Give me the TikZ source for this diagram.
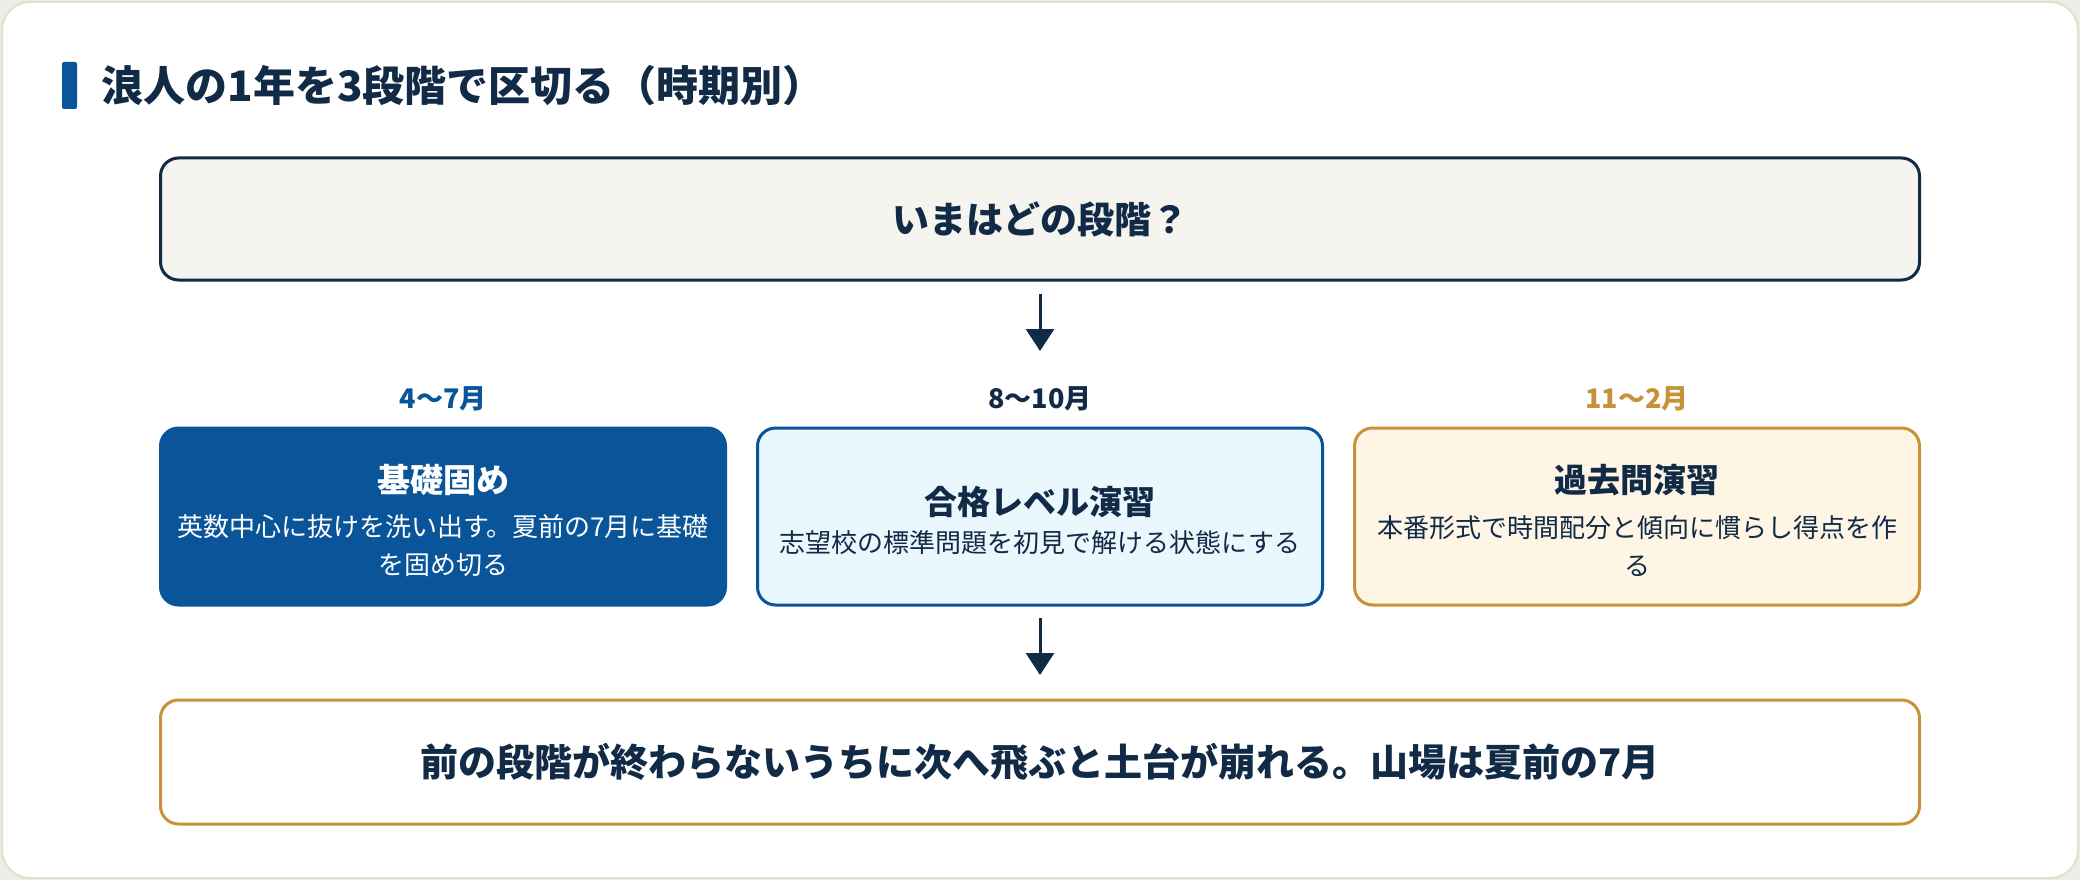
\documentclass[tikz,border=0pt]{standalone}
\usepackage{fontspec}
\setmainfont{Noto Sans CJK JP}
\usepackage{tikz}
\usetikzlibrary{arrows.meta}
\definecolor{navy}{HTML}{112A46}
\definecolor{stageblue}{HTML}{0A5499}
\definecolor{paleblue}{HTML}{EAF7FD}
\definecolor{gold}{HTML}{C8923A}
\definecolor{cream}{HTML}{FEF5E5}
\definecolor{topfill}{HTML}{F5F4EF}
\definecolor{cardline}{HTML}{E3E0D3}
\definecolor{bgc}{HTML}{EDECE5}

\begin{document}
\begin{tikzpicture}[x=1pt,y=-1pt,
	box/.style={draw, line width=3pt, rounded corners=18pt, minimum width=565pt, minimum height=177pt, inner sep=0pt},
	wide/.style={box, minimum width=1759pt, font=\fontsize{38}{44}\selectfont\bfseries, text=navy},
	lab/.style={font=\fontsize{27}{30}\selectfont\bfseries},
	head/.style={font=\fontsize{33}{40}\selectfont\bfseries},
	desc/.style={font=\fontsize{26}{38}\selectfont, align=center},
	arr/.style={-{Triangle[width=28pt,length=22pt]}, line width=3pt, navy}]
	%\draw[help lines] (0,0) grid[step=100] (2080,880);
	\fill[bgc] (0,0) rectangle (2080,880);
	\draw[cardline, fill=white, line width=2pt, rounded corners=28pt] (2,2) rectangle (2078,878);
	\fill[stageblue, rounded corners=2pt] (62,62) rectangle (77,109);
	\node[anchor=west, navy, font=\fontsize{42}{48}\selectfont\bfseries] (title) at (98,86) {浪人の1年を3段階で区切る（時期別）};

	\node[wide, draw=navy, fill=topfill, minimum height=122pt, font=\fontsize{37}{44}\selectfont\bfseries] (top) at (1040,219) {いまはどの段階？};

	\node[lab, stageblue] (lab1) at (443,399) {4〜7月};
	\node[lab, navy] (lab2) at (1040,399) {8〜10月};
	\node[lab, gold] (lab3) at (1637,399) {11〜2月};

	\node[box, draw=stageblue, fill=stageblue] (b1) at (443,516.5) {};
	\node[head, white] (h1) at (443,480) {基礎固め};
	\node[desc, white] (d1) at (443,546) {英数中心に抜けを洗い出す。夏前の7月に基礎\\を固め切る};

	\node[box, draw=stageblue, fill=paleblue] (b2) at (1040,516.5) {};
	\node[head, navy] (h2) at (1040,502) {合格レベル演習};
	\node[desc, navy] (d2) at (1040,543) {志望校の標準問題を初見で解ける状態にする};

	\node[box, draw=gold, fill=cream] (b3) at (1637,516.5) {};
	\node[head, navy] (h3) at (1637,480) {過去問演習};
	\node[desc, navy] (d3) at (1637,546) {本番形式で時間配分と傾向に慣らし得点を作\\る};

	\node[wide, draw=gold, fill=white, minimum height=124pt] (note) at (1040,762) {前の段階が終わらないうちに次へ飛ぶと土台が崩れる。山場は夏前の7月};

	\draw[arr, shorten <=12.5pt, shorten >=75.5pt] (top.south) -- (b2.north);
	\draw[arr, shorten <=11.5pt, shorten >=23.5pt] (b2.south) -- (note.north);
\end{tikzpicture}
\end{document}
